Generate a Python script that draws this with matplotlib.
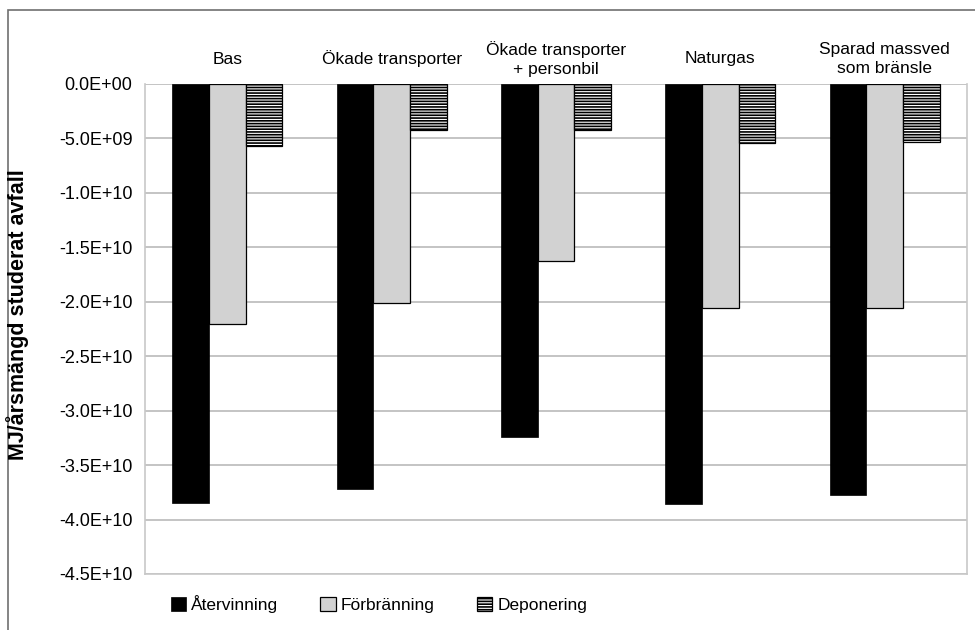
import numpy as np
import matplotlib
matplotlib.use("Agg")
import matplotlib.pyplot as plt
from matplotlib.patches import Rectangle

plt.rcParams['font.family'] = ['Liberation Sans', 'DejaVu Sans']
plt.rcParams['hatch.linewidth'] = 1.2

# Energy per annual amount of waste studied (MJ), per scenario
scenarios = ["Bas", "Ökade transporter", "Ökade transporter\n+ personbil",
             "Naturgas", "Sparad massved\nsom bränsle"]
atervinning = np.array([-38.5, -37.2, -32.4, -38.6, -37.7]) * 1e9
forbranning = np.array([-22.0, -20.1, -16.3, -20.6, -20.6]) * 1e9
deponering = np.array([-5.7, -4.2, -4.2, -5.4, -5.3]) * 1e9
yticks = np.arange(0, -4.51e10, -5e9)

fig = plt.figure(figsize=(9.75, 6.3), dpi=100)
ax = fig.add_axes([145/975, 1 - 574/630, (967 - 145)/975, (574 - 84)/630])

x = np.arange(len(scenarios))
w = 0.223
b1 = ax.bar(x - w, atervinning, w, color='black', edgecolor='black', linewidth=0.5,
            label='Återvinning', zorder=3)
b2 = ax.bar(x, forbranning, w, color='#d2d2d2', edgecolor='black', linewidth=0.9,
            label='Förbränning', zorder=3)
b3 = ax.bar(x + w, deponering, w, color='white', edgecolor='black', linewidth=0.9,
            hatch='------', label='Deponering', zorder=3)

ax.set_xlim(-0.5, len(scenarios) - 0.5)
ax.set_ylim(-4.5e10, 0)
ax.set_yticks(yticks)
ax.set_yticklabels(["%.1E" % v if v != 0 else "0.0E+00" for v in yticks])
ax.yaxis.grid(True, color='#c4c4c4', linewidth=1.4, zorder=0)
ax.set_axisbelow(True)

# scenario names sit above the zero line
ax.set_xticks(x)
ax.set_xticklabels(scenarios, fontsize=12.5, linespacing=1.35)
ax.tick_params(axis='x', top=False, labeltop=True, bottom=False, labelbottom=False,
               pad=14.5)
for lbl in ax.get_xticklabels():
    lbl.set_va('center')
ax.tick_params(axis='y', length=0, pad=9, labelsize=13)

for side in ['left', 'right', 'bottom']:
    ax.spines[side].set_color('#c8c8c8')
    ax.spines[side].set_linewidth(1.2)
ax.spines['top'].set_visible(False)

fig.text(18/975, 1 - 315/630, "MJ/årsmängd studerat avfall", rotation=90,
         ha='center', va='center', fontsize=15.5, fontweight='bold')

fig.legend(handles=[b1, b2, b3], loc='center left', ncol=3, frameon=False,
           bbox_to_anchor=(155/975, 1 - 604/630), fontsize=12.5,
           handlelength=0.9, handleheight=0.9, handletextpad=0.3,
           columnspacing=2.4)

# outer frame around the chart
fig.add_artist(Rectangle((8/975, -0.1), 1.2, 1.1 - 10/630, transform=fig.transFigure,
                         fill=False, edgecolor='#707070', linewidth=1.2, clip_on=False))

fig.savefig("out.png", dpi=100)
